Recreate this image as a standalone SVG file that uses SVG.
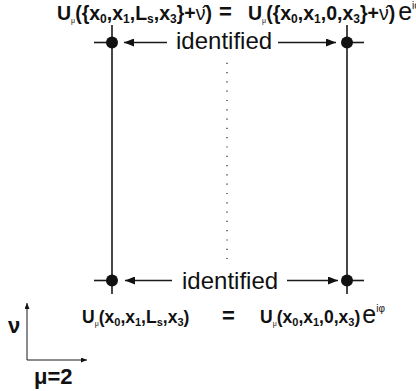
<svg xmlns="http://www.w3.org/2000/svg" width="416" height="391" viewBox="0 0 416 391">
<defs>
<style>
.f{font-family:"Liberation Sans",Arial,sans-serif;font-weight:bold;font-size:17.5px;fill:#111}
.ft{font-size:19.5px}
.sub{font-size:11px}
.ft .sub{font-size:12px}
.mu{font-size:7px;font-weight:normal}
.nu{font-weight:normal}
.e{font-weight:normal;font-size:25px}
.sup{font-weight:normal;font-size:10px}
.eq{font-size:22px}
.id{font-family:"Liberation Sans",Arial,sans-serif;font-size:24px;fill:#111}
.ln{stroke:#1a1a1a;stroke-width:1.6;fill:none}
.ax{stroke:#1a1a1a;stroke-width:1;fill:none}
.dot{fill:#111}
.axl{font-size:22px}
</style>
<marker id="ah" viewBox="0 0 10 8" refX="10" refY="4" markerWidth="10" markerHeight="8" markerUnits="userSpaceOnUse" orient="auto">
<path d="M0,0 L10,4 L0,8 z" fill="#111"/>
</marker>
<marker id="sh" viewBox="0 0 6 5" refX="6" refY="2.5" markerWidth="6" markerHeight="5" markerUnits="userSpaceOnUse" orient="auto">
<path d="M0,0 L6,2.5 L0,5 z" fill="#111"/>
</marker>
</defs>

<g id="connectors">
<line class="ln" x1="112" y1="25" x2="112" y2="294"/>
<line class="ln" x1="347" y1="25" x2="347" y2="294"/>
<line class="ln" x1="94" y1="42.5" x2="112" y2="42.5"/>
<line class="ln" x1="347" y1="42.5" x2="364" y2="42.5"/>
<line class="ln" x1="94" y1="280.5" x2="112" y2="280.5"/>
<line class="ln" x1="347" y1="280.5" x2="364" y2="280.5"/>
<line class="ln" x1="167" y1="42.5" x2="124" y2="42.5" marker-end="url(#ah)"/>
<line class="ln" x1="278" y1="42.5" x2="336" y2="42.5" marker-end="url(#ah)"/>
<line class="ln" x1="172" y1="280.5" x2="125" y2="280.5" marker-end="url(#ah)"/>
<line class="ln" x1="287" y1="280.5" x2="338" y2="280.5" marker-end="url(#ah)"/>
<line x1="227" y1="62.7" x2="227" y2="259" stroke="#333" stroke-width="1.3" stroke-dasharray="1.2 8.1"/>
</g>

<g id="node-top-left"><circle class="dot" cx="112" cy="42.5" r="6"/></g>
<g id="node-top-right"><circle class="dot" cx="347" cy="42.5" r="6"/></g>
<g id="node-bottom-left"><circle class="dot" cx="112" cy="280.5" r="6"/></g>
<g id="node-bottom-right"><circle class="dot" cx="347" cy="280.5" r="6"/></g>

<g id="labels">
<text class="id" x="176" y="49">identified</text>
<text class="id" x="182" y="289">identified</text>

<text class="f ft" x="57" y="20">U<tspan class="mu" dy="3">μ</tspan><tspan dy="-3">({x</tspan><tspan class="sub" dy="3">0</tspan><tspan dy="-3">,x</tspan><tspan class="sub" dy="3">1</tspan><tspan dy="-3">,L</tspan><tspan class="sub" dy="3">s</tspan><tspan dy="-3">,x</tspan><tspan class="sub" dy="3">3</tspan><tspan dy="-3">}+</tspan><tspan class="nu">ν̂</tspan>)</text>
<text class="f eq" x="219" y="19">=</text>
<text class="f ft" x="248" y="20">U<tspan class="mu" dy="3">μ</tspan><tspan dy="-3">({x</tspan><tspan class="sub" dy="3">0</tspan><tspan dy="-3">,x</tspan><tspan class="sub" dy="3">1</tspan><tspan dy="-3">,0,x</tspan><tspan class="sub" dy="3">3</tspan><tspan dy="-3">}+</tspan><tspan class="nu">ν̂</tspan>)<tspan class="e" dx="3">e</tspan><tspan class="sup" dy="-11">iφ</tspan></text>

<text class="f" x="82" y="323">U<tspan class="mu" dy="3">μ</tspan><tspan dy="-3">(x</tspan><tspan class="sub" dy="3">0</tspan><tspan dy="-3">,x</tspan><tspan class="sub" dy="3">1</tspan><tspan dy="-3">,L</tspan><tspan class="sub" dy="3">s</tspan><tspan dy="-3">,x</tspan><tspan class="sub" dy="3">3</tspan><tspan dy="-3">)</tspan></text>
<text class="f eq" x="222" y="323">=</text>
<text class="f" x="260" y="323">U<tspan class="mu" dy="3">μ</tspan><tspan dy="-3">(x</tspan><tspan class="sub" dy="3">0</tspan><tspan dy="-3">,x</tspan><tspan class="sub" dy="3">1</tspan><tspan dy="-3">,0,x</tspan><tspan class="sub" dy="3">3</tspan><tspan dy="-3">)</tspan><tspan class="e" dx="2">e</tspan><tspan class="sup" dy="-11">iφ</tspan></text>
</g>

<g id="axes">
<line class="ax" x1="27" y1="360" x2="27" y2="303" marker-end="url(#sh)"/>
<line class="ax" x1="27" y1="360" x2="87" y2="360" marker-end="url(#sh)"/>
<text class="f axl" x="8" y="333">ν</text>
<text class="f axl" x="34" y="384">μ=2</text>
</g>
</svg>
